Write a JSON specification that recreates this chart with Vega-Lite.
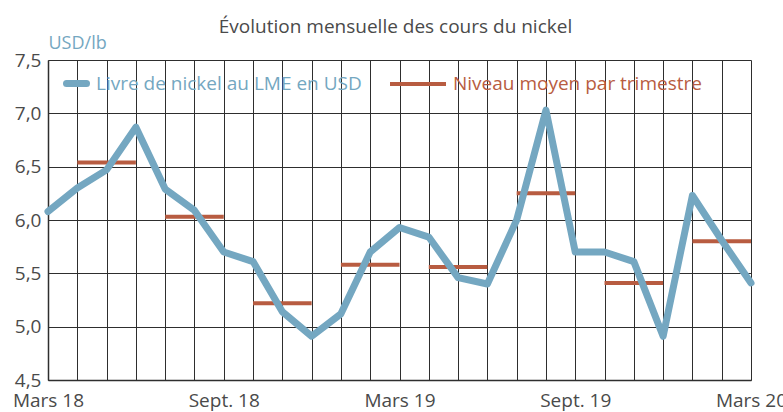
{
  "$schema": "https://vega.github.io/schema/vega-lite/v6.json",
  "width": 703,
  "height": 320,
  "autosize": {"type": "none"},
  "padding": {"left": 48, "top": 60, "right": 32, "bottom": 32},
  "background": "white",
  "config": {
    "font": "Open Sans",
    "view": {"stroke": null},
    "legend": {"padding": 0}
  },
  "title": {
    "text": "Évolution mensuelle des cours du nickel",
    "frame": "group",
    "anchor": "middle",
    "offset": -3,
    "dx": -4,
    "fontSize": 19,
    "fontWeight": "normal",
    "font": "Open Sans",
    "color": "#4a4a4a"
  },
  "datasets": {
    "mensuel": [
      {"mois": "2018-03", "prix": 6.08, "serie": "Livre de nickel au LME en USD"},
      {"mois": "2018-04", "prix": 6.30, "serie": "Livre de nickel au LME en USD"},
      {"mois": "2018-05", "prix": 6.47, "serie": "Livre de nickel au LME en USD"},
      {"mois": "2018-06", "prix": 6.87, "serie": "Livre de nickel au LME en USD"},
      {"mois": "2018-07", "prix": 6.29, "serie": "Livre de nickel au LME en USD"},
      {"mois": "2018-08", "prix": 6.09, "serie": "Livre de nickel au LME en USD"},
      {"mois": "2018-09", "prix": 5.70, "serie": "Livre de nickel au LME en USD"},
      {"mois": "2018-10", "prix": 5.61, "serie": "Livre de nickel au LME en USD"},
      {"mois": "2018-11", "prix": 5.14, "serie": "Livre de nickel au LME en USD"},
      {"mois": "2018-12", "prix": 4.91, "serie": "Livre de nickel au LME en USD"},
      {"mois": "2019-01", "prix": 5.12, "serie": "Livre de nickel au LME en USD"},
      {"mois": "2019-02", "prix": 5.70, "serie": "Livre de nickel au LME en USD"},
      {"mois": "2019-03", "prix": 5.93, "serie": "Livre de nickel au LME en USD"},
      {"mois": "2019-04", "prix": 5.84, "serie": "Livre de nickel au LME en USD"},
      {"mois": "2019-05", "prix": 5.46, "serie": "Livre de nickel au LME en USD"},
      {"mois": "2019-06", "prix": 5.40, "serie": "Livre de nickel au LME en USD"},
      {"mois": "2019-07", "prix": 6.00, "serie": "Livre de nickel au LME en USD"},
      {"mois": "2019-08", "prix": 7.03, "serie": "Livre de nickel au LME en USD"},
      {"mois": "2019-09", "prix": 5.70, "serie": "Livre de nickel au LME en USD"},
      {"mois": "2019-10", "prix": 5.70, "serie": "Livre de nickel au LME en USD"},
      {"mois": "2019-11", "prix": 5.61, "serie": "Livre de nickel au LME en USD"},
      {"mois": "2019-12", "prix": 4.91, "serie": "Livre de nickel au LME en USD"},
      {"mois": "2020-01", "prix": 6.23, "serie": "Livre de nickel au LME en USD"},
      {"mois": "2020-02", "prix": 5.81, "serie": "Livre de nickel au LME en USD"},
      {"mois": "2020-03", "prix": 5.41, "serie": "Livre de nickel au LME en USD"}
    ],
    "trimestriel": [
      {"debut": "2018-04", "fin": "2018-06", "moyenne": 6.54, "serie": "Niveau moyen par trimestre"},
      {"debut": "2018-07", "fin": "2018-09", "moyenne": 6.03, "serie": "Niveau moyen par trimestre"},
      {"debut": "2018-10", "fin": "2018-12", "moyenne": 5.22, "serie": "Niveau moyen par trimestre"},
      {"debut": "2019-01", "fin": "2019-03", "moyenne": 5.58, "serie": "Niveau moyen par trimestre"},
      {"debut": "2019-04", "fin": "2019-06", "moyenne": 5.56, "serie": "Niveau moyen par trimestre"},
      {"debut": "2019-07", "fin": "2019-09", "moyenne": 6.25, "serie": "Niveau moyen par trimestre"},
      {"debut": "2019-10", "fin": "2019-12", "moyenne": 5.41, "serie": "Niveau moyen par trimestre"},
      {"debut": "2020-01", "fin": "2020-03", "moyenne": 5.80, "serie": "Niveau moyen par trimestre"}
    ]
  },
  "layer": [
    {
      "data": {"name": "trimestriel"},
      "mark": {"type": "rule", "strokeWidth": 4, "strokeCap": "butt"},
      "encoding": {
        "x": {
          "field": "debut",
          "type": "ordinal",
          "scale": {"type": "point", "padding": 0},
          "axis": {
            "title": null,
            "grid": true,
            "gridColor": "#2e2e2e",
            "gridWidth": 1,
            "gridOpacity": 1,
            "ticks": false,
            "domain": true,
            "domainColor": "#2e2e2e",
            "domainWidth": 1.5,
            "labelAngle": 0,
            "labelFont": "Open Sans",
            "labelFontSize": 19,
            "labelColor": "#4a4a4a",
            "labelPadding": 11,
            "labelOverlap": false,
            "labelBound": false,
            "labelFlush": false,
            "labelExpr": "datum.value == '2018-03' ? 'Mars 18' : datum.value == '2018-09' ? 'Sept. 18' : datum.value == '2019-03' ? 'Mars 19' : datum.value == '2019-09' ? 'Sept. 19' : datum.value == '2020-03' ? 'Mars 20' : ''"
          }
        },
        "x2": {"field": "fin"},
        "y": {"field": "moyenne", "type": "quantitative"},
        "color": {
          "field": "serie",
          "type": "nominal",
          "scale": {"range": ["#b85c41"]},
          "legend": {
            "title": null,
            "orient": "none",
            "legendX": 340,
            "legendY": -6,
            "symbolType": "stroke",
            "symbolSize": 3136,
            "symbolStrokeWidth": 4,
            "symbolStrokeColor": "#b85c41",
            "labelColor": "#b85c41",
            "labelFont": "Open Sans",
            "labelFontSize": 19,
            "labelOffset": 5,
            "labelLimit": 400
          }
        }
      }
    },
    {
      "data": {"name": "mensuel"},
      "mark": {"type": "line", "strokeWidth": 7, "strokeJoin": "round", "strokeCap": "round"},
      "encoding": {
        "x": {"field": "mois", "type": "ordinal"},
        "y": {
          "field": "prix",
          "type": "quantitative",
          "scale": {"domain": [4.5, 7.5], "nice": false, "zero": false},
          "axis": {
            "values": [4.5, 5, 5.5, 6, 6.5, 7, 7.5],
            "labelExpr": "replace(format(datum.value, '.1f'), '.', ',')",
            "grid": true,
            "gridColor": "#2e2e2e",
            "gridWidth": 1,
            "gridOpacity": 1,
            "ticks": false,
            "domain": true,
            "domainColor": "#2e2e2e",
            "domainWidth": 1.5,
            "labelFont": "Open Sans",
            "labelFontSize": 19,
            "labelColor": "#4a4a4a",
            "labelPadding": 7,
            "labelBound": false,
            "labelFlush": false,
            "title": "USD/lb",
            "titleAngle": 0,
            "titleAlign": "left",
            "titleBaseline": "alphabetic",
            "titleX": 0,
            "titleY": -12,
            "titleFont": "Open Sans",
            "titleFontSize": 18,
            "titleFontWeight": "normal",
            "titleColor": "#74a7c1"
          }
        },
        "color": {
          "field": "serie",
          "type": "nominal",
          "scale": {"range": ["#74a7c1"]},
          "legend": {
            "title": null,
            "orient": "none",
            "legendX": 15,
            "legendY": 10,
            "symbolType": "stroke",
            "symbolSize": 400,
            "symbolStrokeWidth": 7,
            "symbolStrokeColor": "#74a7c1",
            "labelColor": "#74a7c1",
            "labelFont": "Open Sans",
            "labelFontSize": 19,
            "labelOffset": 6,
            "labelLimit": 400,
            "encode": {"symbols": {"update": {"strokeCap": {"value": "round"}}}}
          }
        }
      }
    }
  ],
  "resolve": {"scale": {"color": "independent"}, "legend": {"color": "independent"}}
}
